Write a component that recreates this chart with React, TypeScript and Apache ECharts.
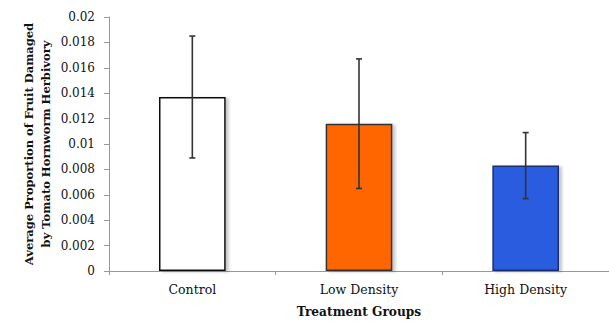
import React, { useEffect, useRef } from "react";
import * as echarts from "echarts";

const categories = ["Control", "Low Density", "High Density"];
const means = [0.0137, 0.0116, 0.0083];
const errors = [0.0048, 0.0051, 0.0026];
const barColors = ["#FFFFFF", "#FF6600", "#2B5BE0"];
const barBorders = ["#111111", "#333333", "#1A2F6E"];
const yTicks = { min: 0, max: 0.02, interval: 0.002 };

const serif = "DejaVu Serif";

export default function App() {
  const ref = useRef<HTMLDivElement>(null);

  useEffect(() => {
    if (!ref.current) return;
    const chart = echarts.init(ref.current, null, { renderer: "svg" });

    const errorData = categories.map((_, i) => [i, means[i] - errors[i], means[i] + errors[i]]);

    chart.setOption({
      animation: false,
      backgroundColor: "#FFFFFF",
      grid: { left: 109, top: 17, right: -1, bottom: 50 },
      xAxis: {
        type: "category",
        data: categories,
        name: "Treatment Groups",
        nameLocation: "middle",
        nameGap: 35,
        nameMoveOverlap: false,
        nameTextStyle: { fontFamily: serif, fontWeight: "bold", fontSize: 12.2, color: "#111" },
        axisLine: { lineStyle: { color: "#999", width: 1 } },
        axisTick: { show: true, length: 4, lineStyle: { color: "#999" } },
        axisLabel: { fontFamily: serif, fontSize: 12.5, color: "#111", margin: 12 },
      },
      yAxis: {
        type: "value",
        min: yTicks.min,
        max: yTicks.max,
        interval: yTicks.interval,
        name: "Average Proportion of Fruit Damaged\nby Tomato Hornworm Herbivory",
        nameLocation: "middle",
        nameGap: 55,
        nameMoveOverlap: false,
        nameRotate: 90,
        nameTextStyle: { fontFamily: serif, fontWeight: "bold", fontSize: 11.5, color: "#111", lineHeight: 17 },
        axisLine: { show: true, lineStyle: { color: "#999", width: 1 } },
        axisTick: { show: true, length: 5, lineStyle: { color: "#999" } },
        splitLine: { show: false },
        axisLabel: {
          fontFamily: serif,
          fontSize: 12,
          color: "#111",
          margin: 14,
          formatter: (v: number) => String(+v.toFixed(3)),
        },
      },
      series: [
        {
          type: "bar",
          barWidth: "40%",
          data: means.map((v, i) => ({
            value: v,
            itemStyle: {
              color: barColors[i],
              borderColor: barBorders[i],
              borderWidth: 1.5,
              shadowColor: "rgba(0,0,0,0.22)",
              shadowBlur: 3,
              shadowOffsetX: 3,
              shadowOffsetY: 1,
            },
          })),
        },
        {
          type: "custom",
          data: errorData,
          z: 10,
          renderItem: (params: any, api: any) => {
            const x = api.value(0);
            const lo = api.coord([x, api.value(1)]);
            const hi = api.coord([x, api.value(2)]);
            const cap = 3;
            const style = { stroke: "#333", lineWidth: 1.6 };
            return {
              type: "group",
              children: [
                { type: "line", shape: { x1: hi[0], y1: hi[1], x2: lo[0], y2: lo[1] }, style },
                { type: "line", shape: { x1: hi[0] - cap, y1: hi[1], x2: hi[0] + cap, y2: hi[1] }, style },
                { type: "line", shape: { x1: lo[0] - cap, y1: lo[1], x2: lo[0] + cap, y2: lo[1] }, style },
              ],
            };
          },
        },
      ],
    });

    return () => chart.dispose();
  }, []);

  return (
    <div
      ref={ref}
      style={{ position: "fixed", left: 0, top: 0, width: 609, height: 323, background: "#fff" }}
    />
  );
}
